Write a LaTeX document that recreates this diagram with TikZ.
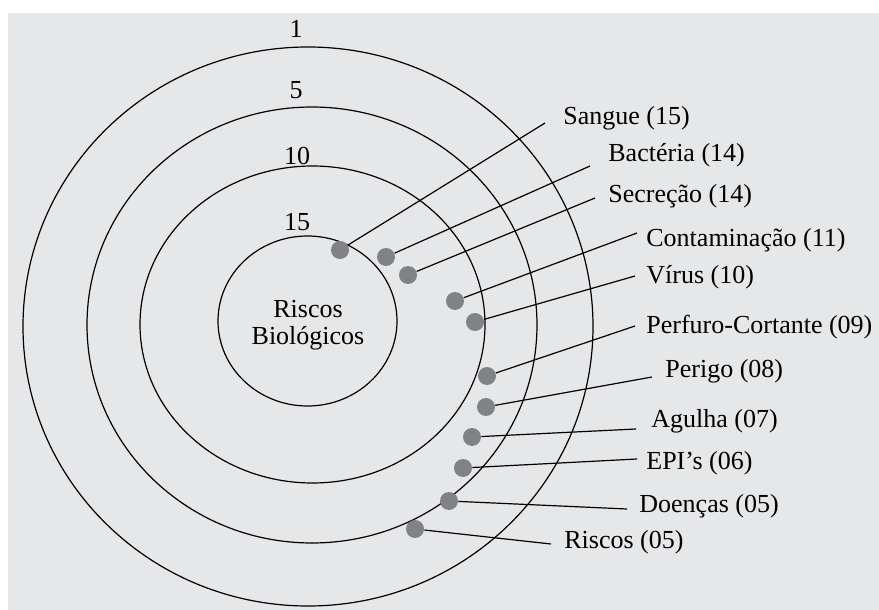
\documentclass[tikz,border=0pt]{standalone}
\usepackage{fontspec}
\setmainfont{Liberation Serif}
\usetikzlibrary{positioning}
\definecolor{bgGray}{RGB}{230,231,233}
\definecolor{dotGray}{RGB}{128,130,134}

\begin{document}
\begin{tikzpicture}[x=0.5pt,y=-0.5pt,
  ring/.style={line width=0.6pt},
  hit/.style={circle,fill=dotGray,inner sep=0pt,minimum size=9pt},
  tag/.style={anchor=base west,inner sep=0pt,font=\fontsize{13}{15}\selectfont},
  lvl/.style={anchor=base,inner sep=0pt,font=\fontsize{13}{15}\selectfont},
  lead/.style={line width=0.6pt}]
  \useasboundingbox (0,0) rectangle (879,610);
  % background
  \fill[bgGray] (8,13) rectangle (879,610);
  % rings, outer to inner
  \draw[ring] (308,326.5) ellipse [x radius=285,y radius=279.5];
  \draw[ring] (312,325) ellipse [x radius=225,y radius=218];
  \draw[ring] (312.5,324.5) ellipse [x radius=172.5,y radius=158.5];
  \draw[ring] (307.5,321) ellipse [x radius=89.5,y radius=85];
  \node[lvl] (n1) at (296,38) {1};
  \node[lvl] (n5) at (296,99) {5};
  \node[lvl] (n10) at (297,165) {10};
  \node[lvl] (n15) at (297,230) {15};
  \node[align=center,inner sep=0pt,font=\fontsize{13}{13.5}\selectfont] (core) at (308,325) {Riscos\\Biológicos};
  % dots
  \node[hit] (sangue) at (340,250) {};
  \node[hit] (bact) at (386,257) {};
  \node[hit] (secr) at (408,275) {};
  \node[hit] (cont) at (455,301) {};
  \node[hit] (virus) at (475,322) {};
  \node[hit] (perf) at (487,376) {};
  \node[hit] (perigo) at (486,407) {};
  \node[hit] (agulha) at (472,437) {};
  \node[hit] (epis) at (463,468) {};
  \node[hit] (doen) at (449,501) {};
  \node[hit] (riscos) at (415,529) {};
  % labels
  \node[tag] (tSangue) at (563,125) {Sangue (15)};
  \node[tag] (tBact) at (608,162) {Bactéria (14)};
  \node[tag] (tSecr) at (608,203) {Secreção (14)};
  \node[tag] (tCont) at (646,247) {Contaminação (11)};
  \node[tag] (tVirus) at (646,283) {Vírus (10)};
  \node[tag] (tPerf) at (646,333) {Perfuro-Cortante (09)};
  \node[tag] (tPerigo) at (665,377) {Perigo (08)};
  \node[tag] (tAgulha) at (651,427) {Agulha (07)};
  \node[tag] (tEpis) at (646,469) {EPI’s (06)};
  \node[tag] (tDoen) at (639,512) {Doenças (05)};
  \node[tag] (tRiscos) at (564,548) {Riscos (05)};
  % line ends
  \coordinate (eSangue) at (545,123);
  \coordinate (eBact) at (590,166);
  \coordinate (eSecr) at (595,198);
  \coordinate (eCont) at (637,233);
  \coordinate (eVirus) at (635,276);
  \coordinate (ePerf) at (635,326);
  \coordinate (ePerigo) at (652,377);
  \coordinate (eAgulha) at (636,429);
  \coordinate (eEpis) at (637,459);
  \coordinate (eDoen) at (627,509);
  \coordinate (eRiscos) at (551,544);
  \foreach \d/\e in {sangue/eSangue,bact/eBact,secr/eSecr,cont/eCont,virus/eVirus,
      perf/ePerf,perigo/ePerigo,agulha/eAgulha,epis/eEpis,doen/eDoen,riscos/eRiscos}
    \draw[lead] (\d) -- (\e);
\end{tikzpicture}
\end{document}
